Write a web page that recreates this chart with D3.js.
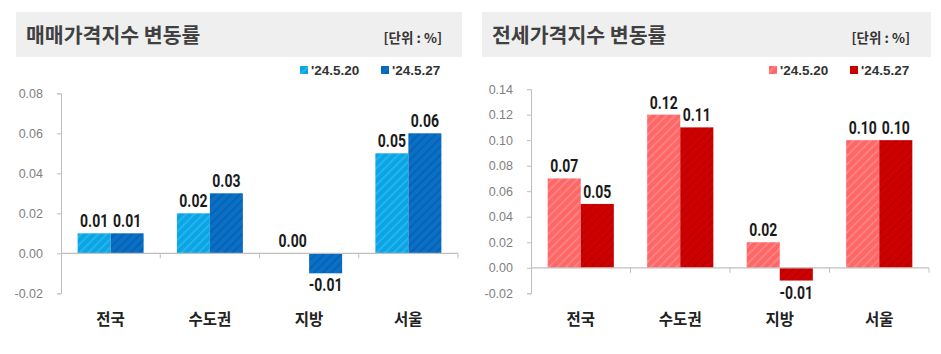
<!DOCTYPE html>
<html>
<head>
<meta charset="utf-8">
<script src="https://cdn.jsdelivr.net/npm/d3@7"></script>
<style>
  body { margin: 0; background: #fff; }
  svg { display: block; }
</style>
</head>
<body>
<svg id="chart" width="941" height="354"></svg>
<script>
const categories = ['전국', '수도권', '지방', '서울'];
const seriesNames = ["'24.5.20", "'24.5.27"];

// 매매가격지수 변동률
const saleWeek1 = [0.01, 0.02, 0.00, 0.05];
const saleWeek2 = [0.01, 0.03, -0.01, 0.06];
const saleTicks = [-0.02, 0.00, 0.02, 0.04, 0.06, 0.08];

// 전세가격지수 변동률
const rentWeek1 = [0.07, 0.12, 0.02, 0.10];
const rentWeek2 = [0.05, 0.11, -0.01, 0.10];
const rentTicks = [-0.02, 0.00, 0.02, 0.04, 0.06, 0.08, 0.10, 0.12, 0.14];

const svg = d3.select('#chart');
const defs = svg.append('defs');

const krFont = "'Noto Sans CJK KR', sans-serif";
const numFont = "Roboto, 'Liberation Sans', sans-serif";
const tickFont = "'Liberation Sans', Arial, sans-serif";
const fmt = v => v < 0 ? '-' + d3.format('.2f')(-v) : d3.format('.2f')(v);

// diagonal stripe fill
function makePattern (id, base, stripe) {
  const p = defs.append('pattern')
    .attr('id', id)
    .attr('patternUnits', 'userSpaceOnUse')
    .attr('width', 6).attr('height', 6)
    .attr('patternTransform', 'rotate(45)');
  p.append('rect').attr('width', 6).attr('height', 6).attr('fill', base);
  p.append('rect').attr('width', 2).attr('height', 6).attr('fill', stripe);
}
makePattern('blue1', '#09a6e6', '#29b2ec');
makePattern('blue2', '#0a70c6', '#0862b4');
makePattern('red1', '#ff6666', '#ff8282');
makePattern('red2', '#d10000', '#bb0000');

function drawPanel (cfg) {
  const g = svg.append('g');

  // header box
  g.append('rect')
    .attr('x', cfg.boxX).attr('y', 12)
    .attr('width', cfg.boxW).attr('height', 45)
    .attr('fill', '#efefef');
  g.append('text')
    .attr('x', cfg.boxX + 10).attr('y', 43)
    .attr('font-family', krFont).attr('font-weight', 700)
    .attr('font-size', 20.5).attr('fill', '#404040')
    .text(cfg.title);
  g.append('text')
    .attr('x', cfg.unitRight).attr('y', 43)
    .attr('text-anchor', 'end')
    .attr('font-family', krFont).attr('font-weight', 700)
    .attr('font-size', 13.5).attr('fill', '#333')
    .text('[단위 : %]');

  // legend
  cfg.legendX.forEach((lx, i) => {
    g.append('rect')
      .attr('x', lx).attr('y', 66)
      .attr('width', 8).attr('height', 8)
      .attr('fill', 'url(#' + cfg.fills[i] + ')');
    g.append('text')
      .attr('x', lx + 11).attr('y', 75)
      .attr('font-family', tickFont).attr('font-weight', 700)
      .attr('font-size', 13.5).attr('fill', '#333')
      .text(seriesNames[i]);
  });

  const y = d3.scaleLinear()
    .domain([cfg.ticks[0], cfg.ticks[cfg.ticks.length - 1]])
    .range([293.3, cfg.yTop]);

  const x0 = d3.scaleBand()
    .domain(categories)
    .range([cfg.axisX, cfg.axisEnd])
    .paddingInner(0.335)
    .paddingOuter(0.1675);

  const x1 = d3.scaleBand()
    .domain([0, 1])
    .range([0, x0.bandwidth()]);

  // y axis
  const yAxis = d3.axisLeft(y)
    .tickValues(cfg.ticks)
    .tickSize(4)
    .tickPadding(14)
    .tickFormat(fmt);
  const ya = g.append('g')
    .attr('transform', 'translate(' + cfg.axisX + ',0)')
    .call(yAxis);
  ya.select('.domain').attr('stroke', '#bfbfbf');
  ya.selectAll('.tick line').attr('stroke', '#bfbfbf');
  ya.selectAll('.tick text')
    .attr('font-family', tickFont).attr('font-size', 12.5)
    .attr('fill', '#808080');

  // bars
  const series = [cfg.s1, cfg.s2];
  series.forEach((vals, si) => {
    g.append('g').selectAll('rect')
      .data(categories.map((c, i) => ({ c: c, v: vals[i] })))
      .join('rect')
      .attr('x', d => x0(d.c) + x1(si))
      .attr('y', d => y(Math.max(0, d.v)))
      .attr('width', x1.bandwidth())
      .attr('height', d => Math.abs(y(d.v) - y(0)))
      .attr('fill', 'url(#' + cfg.fills[si] + ')');
  });

  // x axis line and category ticks
  const y0 = y(0);
  g.append('line')
    .attr('x1', cfg.axisX).attr('x2', cfg.axisEnd)
    .attr('y1', y0).attr('y2', y0)
    .attr('stroke', '#bfbfbf').attr('stroke-width', 1.2);
  categories.forEach((c, i) => {
    const tx = cfg.axisX + x0.step() * (i + 1);
    g.append('line')
      .attr('x1', tx).attr('x2', tx)
      .attr('y1', y0).attr('y2', y0 + 5)
      .attr('stroke', '#bfbfbf');
    g.append('text')
      .attr('x', x0(c) + x0.bandwidth() / 2).attr('y', 325)
      .attr('text-anchor', 'middle')
      .attr('font-family', krFont).attr('font-weight', 700)
      .attr('font-size', 15.5).attr('fill', '#222')
      .text(c);
  });

  // value labels (narrowed to look like a condensed face)
  series.forEach((vals, si) => {
    vals.forEach((v, i) => {
      const cx = x0(categories[i]) + x1(si) + x1.bandwidth() / 2;
      const ty = v < 0 ? y(v) + 18 : y(v) - 6;
      g.append('text')
        .attr('transform', 'translate(' + cx + ',' + ty + ') scale(0.8,1)')
        .attr('text-anchor', 'middle')
        .attr('font-family', numFont).attr('font-weight', 700)
        .attr('font-size', 17.5).attr('fill', '#1a1a1a')
        .text(fmt(v));
    });
  });
}

drawPanel({
  title: '매매가격지수 변동률',
  boxX: 16, boxW: 446, unitRight: 442,
  legendX: [300, 381],
  fills: ['blue1', 'blue2'],
  s1: saleWeek1, s2: saleWeek2,
  ticks: saleTicks, yTop: 93.3,
  axisX: 61, axisEnd: 458
});

drawPanel({
  title: '전세가격지수 변동률',
  boxX: 482, boxW: 449, unitRight: 910,
  legendX: [769, 850],
  fills: ['red1', 'red2'],
  s1: rentWeek1, s2: rentWeek2,
  ticks: rentTicks, yTop: 89.1,
  axisX: 531, axisEnd: 929
});
</script>
</body>
</html>
